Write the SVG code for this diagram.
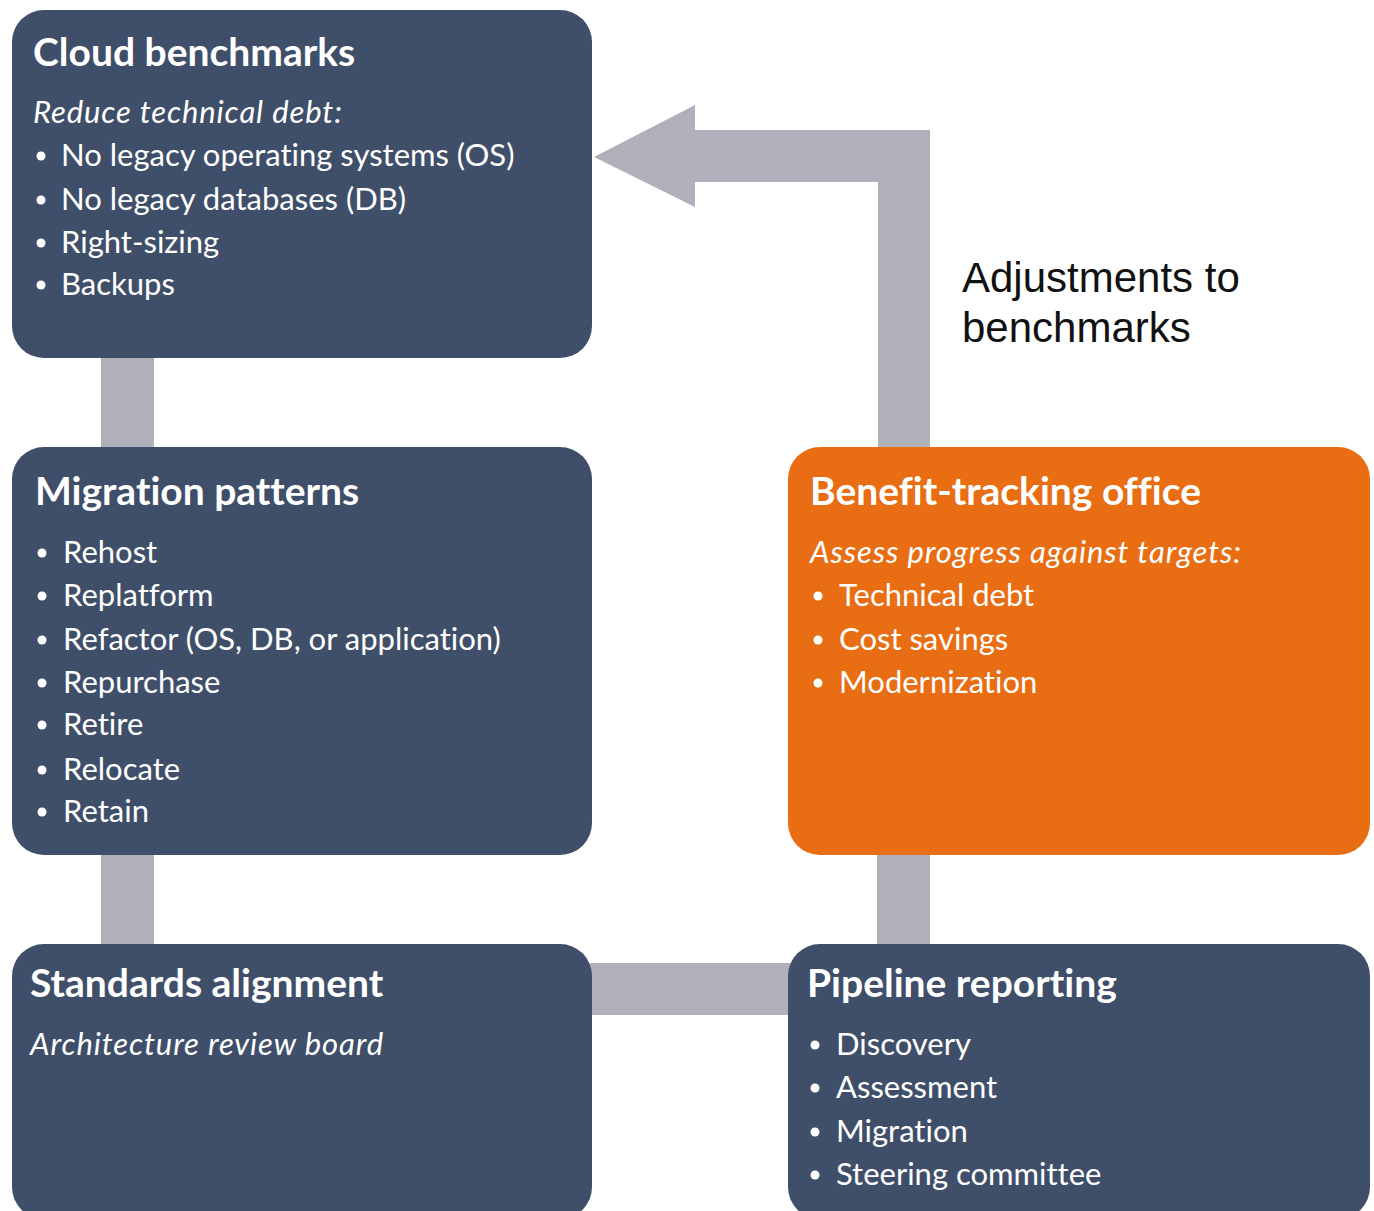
<svg xmlns="http://www.w3.org/2000/svg" width="1374" height="1211" viewBox="0 0 1374 1211">
<style>
.box{fill:#3F4F69;}
.orange{fill:#E96D12;}
.conn{fill:#AFB0BA;}
text{font-variant-ligatures:none;}
.title{font-family:Lato,"Liberation Sans",sans-serif;font-weight:bold;font-size:39px;fill:#fff;}
.it{font-family:Lato,"Liberation Sans",sans-serif;font-style:italic;font-size:31px;letter-spacing:0.9px;fill:#fff;}
.txt{font-family:Lato,"Liberation Sans",sans-serif;font-size:31px;fill:#fff;}
.lbl{font-family:"Liberation Sans",Arial,sans-serif;font-size:42px;fill:#111;}
</style>
<rect width="1374" height="1211" fill="#fff"/>
<g id="connectors">
<rect class="conn" x="101" y="356" width="53" height="93"/>
<rect class="conn" x="101" y="853" width="53" height="92"/>
<rect class="conn" x="590" y="963" width="200" height="52"/>
<rect class="conn" x="877" y="853" width="53" height="92"/>
<path class="conn" d="M930,449 L930,130 L695,130 L695,105 L594,157 L695,207 L695,182 L878,182 L878,449 Z"/>
<g id="label-adjust">
<text class="lbl" x="962" y="292">Adjustments to</text>
<text class="lbl" x="962" y="342">benchmarks</text>
</g>
</g>
<g id="cloud-benchmarks">
<rect class="box" x="12" y="10" width="580" height="348" rx="32"/>
<text class="title" x="33" y="66">Cloud benchmarks</text>
<text class="it" x="33" y="123">Reduce technical debt:</text>
<g class="txt">
<circle cx="41" cy="156" r="4.5" fill="#fff"/><text x="61" y="166">No legacy operating systems (OS)</text>
<circle cx="41" cy="200" r="4.5" fill="#fff"/><text x="61" y="210">No legacy databases (DB)</text>
<circle cx="41" cy="243" r="4.5" fill="#fff"/><text x="61" y="253">Right-sizing</text>
<circle cx="41" cy="285" r="4.5" fill="#fff"/><text x="61" y="295">Backups</text>
</g>
</g>
<g id="migration-patterns">
<rect class="box" x="12" y="447" width="580" height="408" rx="32"/>
<text class="title" x="35" y="505">Migration patterns</text>
<g class="txt">
<circle cx="42" cy="553" r="4.5" fill="#fff"/><text x="63" y="563">Rehost</text>
<circle cx="42" cy="596" r="4.5" fill="#fff"/><text x="63" y="606">Replatform</text>
<circle cx="42" cy="640" r="4.5" fill="#fff"/><text x="63" y="650">Refactor (OS, DB, or application)</text>
<circle cx="42" cy="683" r="4.5" fill="#fff"/><text x="63" y="693">Repurchase</text>
<circle cx="42" cy="725" r="4.5" fill="#fff"/><text x="63" y="735">Retire</text>
<circle cx="42" cy="770" r="4.5" fill="#fff"/><text x="63" y="780">Relocate</text>
<circle cx="42" cy="812" r="4.5" fill="#fff"/><text x="63" y="822">Retain</text>
</g>
</g>
<g id="benefit-tracking-office">
<rect class="orange" x="788" y="447" width="582" height="408" rx="32"/>
<text class="title" x="810" y="505">Benefit-tracking office</text>
<text class="it" x="810" y="563">Assess progress against targets:</text>
<g class="txt">
<circle cx="818" cy="596" r="4.5" fill="#fff"/><text x="839" y="606">Technical debt</text>
<circle cx="818" cy="640" r="4.5" fill="#fff"/><text x="839" y="650">Cost savings</text>
<circle cx="818" cy="683" r="4.5" fill="#fff"/><text x="839" y="693">Modernization</text>
</g>
</g>
<g id="standards-alignment">
<rect class="box" x="12" y="944" width="580" height="275" rx="32"/>
<text class="title" x="30" y="997">Standards alignment</text>
<text class="it" x="30" y="1055">Architecture review board</text>
</g>
<g id="pipeline-reporting">
<rect class="box" x="788" y="944" width="582" height="275" rx="32"/>
<text class="title" x="807" y="997">Pipeline reporting</text>
<g class="txt">
<circle cx="815" cy="1045" r="4.5" fill="#fff"/><text x="836" y="1055">Discovery</text>
<circle cx="815" cy="1088" r="4.5" fill="#fff"/><text x="836" y="1098">Assessment</text>
<circle cx="815" cy="1132" r="4.5" fill="#fff"/><text x="836" y="1142">Migration</text>
<circle cx="815" cy="1175" r="4.5" fill="#fff"/><text x="836" y="1185">Steering committee</text>
</g>
</g>
</svg>
